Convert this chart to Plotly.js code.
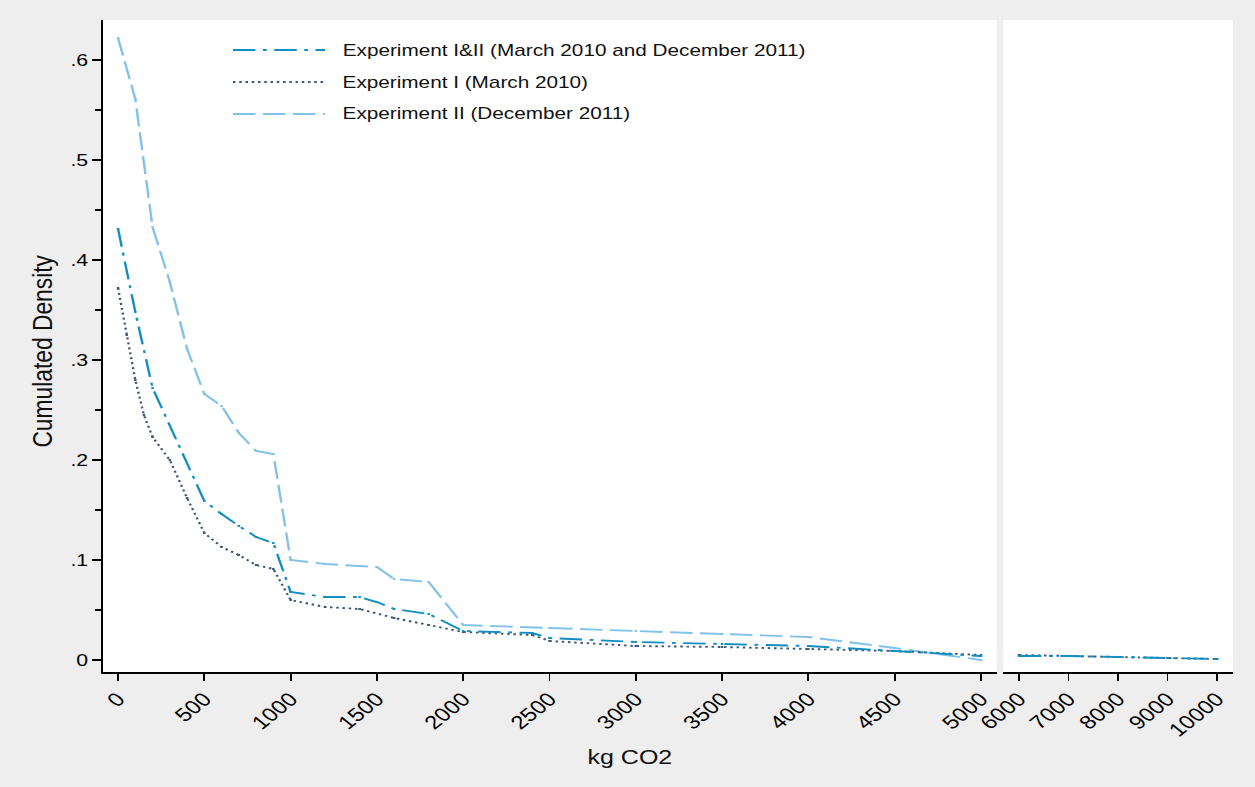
<!DOCTYPE html>
<html>
<head>
<meta charset="utf-8">
<script src="https://cdn.plot.ly/plotly-3.0.1.min.js"></script>
<style>
  html, body { margin: 0; padding: 0; background: #eeeeee; overflow: hidden; }
  #wrap { width: 1004px; height: 787px; transform: scale(1.25, 1); transform-origin: 0 0; }
</style>
</head>
<body>
<div id="wrap"><div id="chart" style="width:1004px;height:787px;"></div></div>
<script>
// ---- Data ----
const seriesNames = [
  "Experiment I&II (March 2010 and December 2011)",
  "Experiment I (March 2010)",
  "Experiment II (December 2011)"
];

// Experiment I&II, left panel (0-5000 kg)
const bothX = [0,100,200,500,600,700,800,900,1000,1200,1400,1500,1600,1800,2000,2200,2400,2500,3000,3500,4000,4500,5000];
const bothY = [0.431,0.348,0.272,0.159,0.146,0.134,0.123,0.117,0.068,0.063,0.063,0.058,0.051,0.046,0.029,0.028,0.027,0.022,0.018,0.016,0.014,0.009,0.004];

// Experiment I, left panel
const exp1X = [0,50,100,150,200,300,400,500,600,700,800,900,1000,1200,1400,1600,1800,2000,2400,2500,3000,3500,4000,4500,5000];
const exp1Y = [0.372,0.325,0.280,0.245,0.223,0.200,0.162,0.127,0.113,0.105,0.095,0.091,0.060,0.053,0.051,0.042,0.035,0.028,0.025,0.019,0.014,0.013,0.011,0.009,0.005];

// Experiment II, left panel
const exp2X = [0,100,200,300,400,500,600,700,800,900,1000,1200,1500,1600,1800,2000,2500,3000,3500,4000,4500,5000];
const exp2Y = [0.622,0.561,0.433,0.378,0.311,0.266,0.254,0.227,0.209,0.206,0.100,0.096,0.093,0.081,0.078,0.035,0.032,0.029,0.026,0.023,0.012,0.000];

// Right panel (6000-10000 kg)
const highX = [6000,7000,8000,9000,10000];
const bothHighY = [0.004,0.004,0.003,0.002,0.001];
const exp1HighY = [0.005,0.004,0.003,0.002,0.001];

// Tick labels
const leftTicks = [0,500,1000,1500,2000,2500,3000,3500,4000,4500,5000];
const rightTicks = [6000,7000,8000,9000,10000];
const yTickVals = [0,0.1,0.2,0.3,0.4,0.5,0.6];
const yTickText = ["0",".1",".2",".3",".4",".5",".6"];
const yMinorVals = [0.05,0.15,0.25,0.35,0.45,0.55];

// ---- Styles ----
const colBoth = "#118dc0";
const colExp1 = "#3b5a78";
const colExp2 = "#80c2ea";
const dashBoth = "18px,6px,3px,6px";
const dashExp1 = "2px,3px";
const dashExp2 = "18px,6px";
const FONT = "Liberation Sans, Arial, sans-serif";

function tr(x, y, color, dash, xa, name) {
  return {
    x: x, y: y, type: "scatter", mode: "lines+markers", name: name,
    xaxis: xa, yaxis: "y", showlegend: false, hoverinfo: "skip",
    line: { color: color, width: 1.9, dash: dash },
    marker: { symbol: "square", size: 2, color: color }
  };
}

const data = [
  tr(exp2X, exp2Y, colExp2, dashExp2, "x", seriesNames[2]),
  tr(exp1X, exp1Y, colExp1, dashExp1, "x", seriesNames[1]),
  tr(bothX, bothY, colBoth, dashBoth, "x", seriesNames[0]),
  tr(highX, exp1HighY, colExp1, dashExp1, "x2", seriesNames[1]),
  tr(highX, bothHighY, colBoth, dashBoth, "x2", seriesNames[0])
];

const axisCommon = {
  showgrid: false, zeroline: false, showline: true, linecolor: "#000", linewidth: 1.5,
  ticks: "outside", ticklen: 7, tickwidth: 1.5, tickcolor: "#000",
  tickfont: { family: FONT, size: 17, color: "#000" }
};
const xTickFont = { family: FONT, size: 19, color: "#000" };

// Legend built from the series names/styles
const legendRows = [
  { name: seriesNames[0], color: colBoth, dash: dashBoth, y: 1 - 50/787 },
  { name: seriesNames[1], color: colExp1, dash: dashExp1, y: 1 - 82/787 },
  { name: seriesNames[2], color: colExp2, dash: dashExp2, y: 1 - 114/787 }
];
const shapes = legendRows.map(r => ({
  type: "line", xref: "paper", yref: "paper",
  x0: 186.4/1004, x1: 260/1004, y0: r.y, y1: r.y,
  line: { color: r.color, width: 1.9, dash: r.dash }
}));
const annotations = legendRows.map(r => ({
  xref: "paper", yref: "paper", x: 272/1004, y: r.y,
  xanchor: "left", yanchor: "middle", showarrow: false, text: r.name,
  font: { family: FONT, size: 16.6, color: "#111" }
}));
annotations.push({
  xref: "paper", yref: "paper", x: 504/1004, y: 1 - 757/787,
  xanchor: "center", yanchor: "middle", showarrow: false, text: "kg CO2",
  font: { family: FONT, size: 20, color: "#111" }
});
annotations.push({
  xref: "paper", yref: "paper", x: 33.6/1004, y: 1 - 351/787,
  xanchor: "center", yanchor: "middle", showarrow: false, text: "Cumulated Density",
  textangle: -90, font: { family: FONT, size: 22.8, color: "#111" }
});

const layout = {
  width: 1004, height: 787,
  margin: { l: 0, r: 0, t: 0, b: 0 },
  paper_bgcolor: "#eeeeee", plot_bgcolor: "#ffffff",
  showlegend: false,
  xaxis: Object.assign({}, axisCommon, {
    domain: [0.0821, 0.7944], range: [-87, 5093], anchor: "y",
    tickmode: "array", tickvals: leftTicks, ticktext: leftTicks.map(String), tickangle: -45,
    tickfont: xTickFont
  }),
  xaxis2: Object.assign({}, axisCommon, {
    domain: [0.7992, 0.9825], range: [5677, 10323], anchor: "y",
    tickmode: "array", tickvals: rightTicks, ticktext: rightTicks.map(String), tickangle: -45,
    tickfont: xTickFont
  }),
  yaxis: Object.assign({}, axisCommon, {
    domain: [1 - 672/787, 1 - 20/787], range: [-0.012, 0.64], anchor: "x",
    tickmode: "array", tickvals: yTickVals, ticktext: yTickText,
    minor: { tickmode: "array", tickvals: yMinorVals, ticks: "outside", ticklen: 5, tickwidth: 1.2, tickcolor: "#000", showgrid: false }
  }),
  shapes: shapes,
  annotations: annotations
};

Plotly.newPlot("chart", data, layout, { displayModeBar: false, staticPlot: true });
</script>
</body>
</html>
